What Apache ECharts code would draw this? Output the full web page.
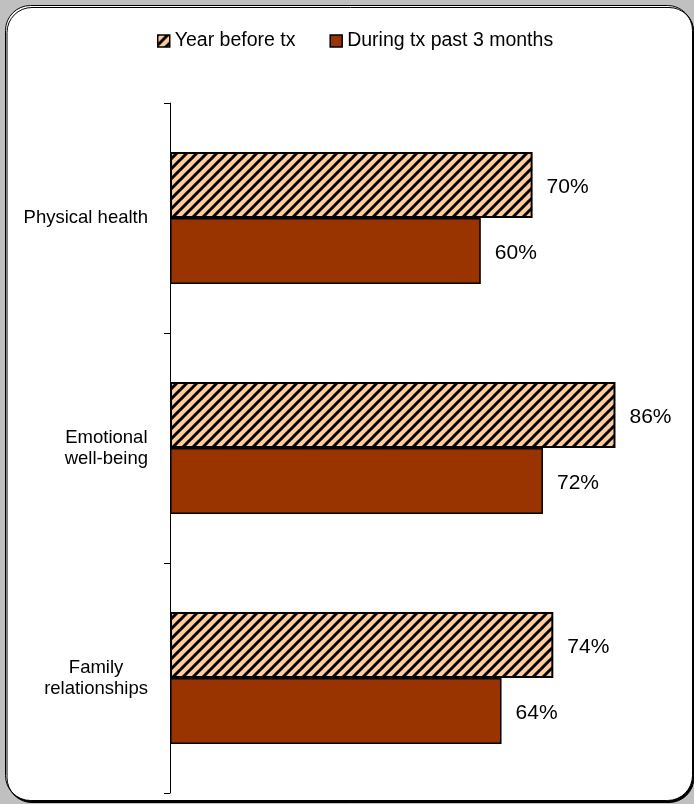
<!DOCTYPE html>
<html>
<head>
<meta charset="utf-8">
<script src="https://cdn.jsdelivr.net/npm/echarts@6/dist/echarts.min.js"></script>
<style>
html,body{margin:0;padding:0;background:#c0c0c0;}
#chart{width:694px;height:804px;}
</style>
</head>
<body>
<div id="chart"></div>
<script>
const categories = ['Physical health', 'Emotional\nwell-being', 'Family\nrelationships'];
const seriesNames = ['Year before tx', 'During tx past 3 months'];
const yearBefore = [70, 86, 74];
const duringTx = [60, 72, 64];

function makeHatch() {
  const s = 10;
  const c = document.createElement('canvas');
  c.width = s; c.height = s;
  const g = c.getContext('2d');
  g.fillStyle = '#FFCC99';
  g.fillRect(0, 0, s, s);
  g.strokeStyle = '#000';
  g.lineWidth = 3;
  g.beginPath();
  for (let k = -1; k <= 1; k++) {
    g.moveTo(k * s - 1, s + 1);
    g.lineTo(k * s + s + 1, -1);
  }
  g.stroke();
  return c;
}
const hatch = { image: makeHatch(), repeat: 'repeat' };

const chart = echarts.init(document.getElementById('chart'), null, { renderer: 'canvas' });
const FONT = 'Liberation Sans, Arial, sans-serif';

chart.setOption({
  backgroundColor: '#c0c0c0',
  animation: false,
  graphic: [{
    type: 'rect',
    z: -10,
    shape: { x: 5.5, y: 5.5, width: 687, height: 795, r: 25 },
    style: { fill: '#fff', stroke: '#000', lineWidth: 1, shadowColor: '#000', shadowOffsetX: 1.5, shadowOffsetY: 2, shadowBlur: 0 }
  }],
  legend: {
    left: 157,
    top: 31,
    icon: 'rect',
    itemWidth: 12,
    itemHeight: 12,
    itemGap: 34,
    padding: 0,
    itemStyle: { borderColor: '#000', borderWidth: 1.5 },
    textStyle: { fontFamily: FONT, fontSize: 19.5, color: '#000' },
    data: seriesNames
  },
  grid: { left: 170, top: 103, width: 518, height: 690, containLabel: false },
  xAxis: {
    type: 'value', min: 0, max: 100,
    show: false
  },
  yAxis: {
    type: 'category',
    inverse: true,
    data: categories,
    axisLine: { show: true, lineStyle: { color: '#000', width: 1 } },
    axisTick: { show: true, length: 6, lineStyle: { color: '#000' } },
    axisLabel: {
      margin: 22,
      color: '#000',
      fontFamily: FONT,
      fontSize: 18.5,
      lineHeight: 21,
      formatter: function (v) { return v.split('\n').map(function (l) { return '{a|' + l + '}'; }).join('\n'); },
      rich: { a: { align: 'center', fontFamily: FONT, fontSize: 18.5, lineHeight: 21, color: '#000' } }
    },
    splitLine: { show: false }
  },
  series: [
    {
      name: seriesNames[0],
      type: 'bar',
      data: yearBefore,
      barWidth: 66,
      barGap: '0%',
      itemStyle: { color: hatch, borderColor: '#000', borderWidth: 2 },
      label: { show: true, position: 'right', distance: 14, offset: [0, 2], formatter: '{c}%', fontFamily: FONT, fontSize: 21, color: '#000' }
    },
    {
      name: seriesNames[1],
      type: 'bar',
      data: duringTx,
      barWidth: 66,
      barGap: '0%',
      itemStyle: { color: '#993300', borderColor: '#000', borderWidth: 1.5 },
      label: { show: true, position: 'right', distance: 14, offset: [0, 2], formatter: '{c}%', fontFamily: FONT, fontSize: 21, color: '#000' }
    }
  ]
});
</script>
</body>
</html>
